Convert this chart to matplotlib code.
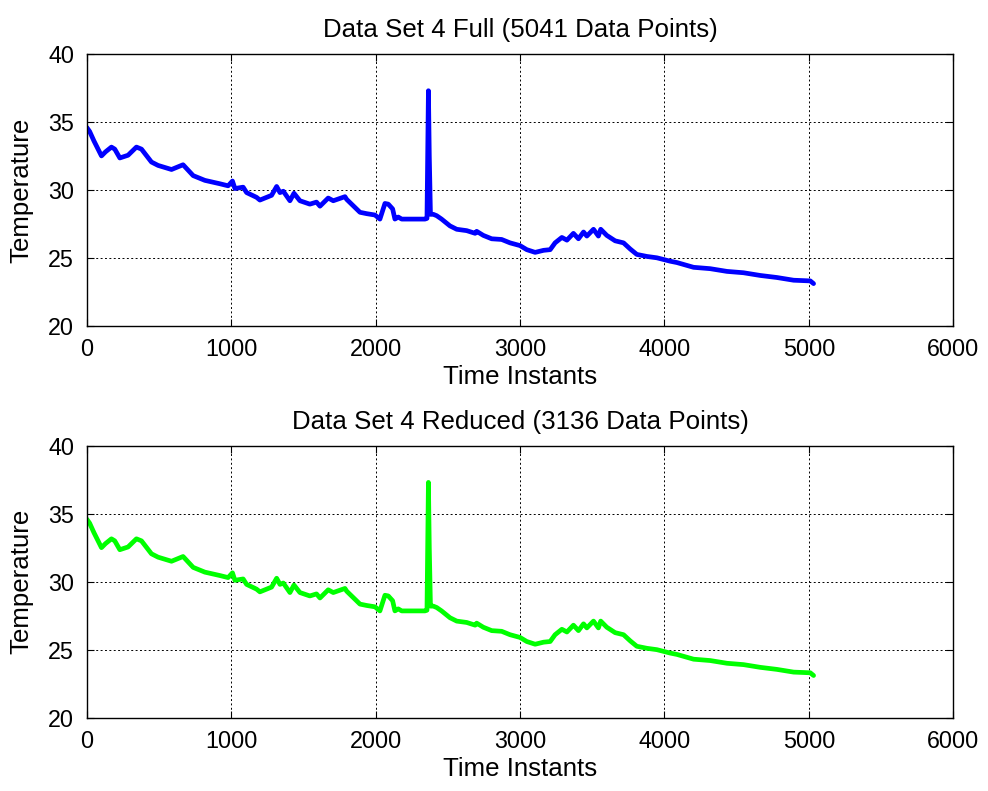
import numpy as np
import matplotlib
matplotlib.use("Agg")
import matplotlib.pyplot as plt

plt.rcParams['font.family'] = ['Liberation Sans', 'DejaVu Sans']

time_full = [0, 20, 50, 102, 130, 171, 194, 229, 286, 344, 379, 448, 494, 587,
             667, 737, 818, 922, 979, 1009, 1026, 1083, 1107, 1176, 1199, 1280,
             1315, 1338, 1361, 1407, 1435, 1476, 1545, 1591, 1615, 1672, 1707,
             1788, 1800, 1892, 1938, 1996, 2030, 2065, 2088, 2118, 2134, 2157,
             2181, 2250, 2342, 2356, 2366, 2372, 2380, 2400, 2423, 2457, 2515,
             2562, 2631, 2690, 2700, 2746, 2804, 2873, 2931, 3000, 3047, 3105,
             3163, 3209, 3243, 3290, 3325, 3370, 3405, 3440, 3463, 3509, 3543,
             3559, 3601, 3659, 3717, 3763, 3809, 3879, 3948, 4040, 4087, 4202,
             4317, 4433, 4548, 4664, 4779, 4895, 5010, 5033]
temp_full = [34.6, 34.3, 33.6, 32.5, 32.8, 33.15, 33.0, 32.35, 32.55, 33.15,
             33.0, 32.05, 31.8, 31.5, 31.85, 31.05, 30.7, 30.45, 30.3, 30.65,
             30.1, 30.2, 29.8, 29.45, 29.25, 29.6, 30.25, 29.8, 29.9, 29.2,
             29.75, 29.2, 28.95, 29.1, 28.8, 29.4, 29.2, 29.5, 29.3, 28.35,
             28.25, 28.15, 27.85, 29.0, 28.95, 28.6, 27.85, 28.0, 27.85, 27.85,
             27.85, 27.9, 37.3, 32.5, 28.2, 28.2, 28.1, 27.85, 27.35, 27.1,
             27.0, 26.8, 26.95, 26.65, 26.4, 26.35, 26.1, 25.9, 25.6, 25.4,
             25.55, 25.6, 26.1, 26.5, 26.3, 26.8, 26.4, 26.9, 26.6, 27.1, 26.6,
             27.1, 26.65, 26.25, 26.1, 25.65, 25.25, 25.1, 25.0, 24.75, 24.65,
             24.3, 24.2, 24.0, 23.9, 23.7, 23.55, 23.35, 23.3, 23.1]

# reduced data set follows the same trace
time_reduced = time_full
temp_reduced = temp_full

fig = plt.figure(figsize=(9.88, 7.91), dpi=100)
ax1 = fig.add_axes([0.0878, 0.5882, 0.877, 0.3435])
ax2 = fig.add_axes([0.0878, 0.0927, 0.877, 0.3439])

panels = [(ax1, time_full, temp_full, '#0000ff', 'Data Set 4 Full (5041 Data Points)'),
          (ax2, time_reduced, temp_reduced, '#00ff00', 'Data Set 4 Reduced (3136 Data Points)')]

for ax, t, y, c, title in panels:
    ax.plot(t, y, color=c, linewidth=3.4, solid_joinstyle='round', solid_capstyle='round')
    ax.set_xlim(0, 6000)
    ax.set_ylim(20, 40)
    ax.set_xticks(np.arange(0, 6001, 1000))
    ax.set_yticks([20, 25, 30, 35, 40])
    ax.grid(True, color='black', linestyle=(0, (2, 2.5)), linewidth=0.7)
    ax.tick_params(direction='in', length=5, top=True, right=True, labelsize=16.8, pad=9)
    for s in ax.spines.values():
        s.set_linewidth(1.0)
    ax.set_title(title, fontsize=18.6, pad=12)
    ax.set_xlabel('Time Instants', fontsize=18.6, labelpad=3)
    ax.set_ylabel('Temperature', fontsize=18.6, labelpad=11)

fig.savefig('out.png', dpi=100)
